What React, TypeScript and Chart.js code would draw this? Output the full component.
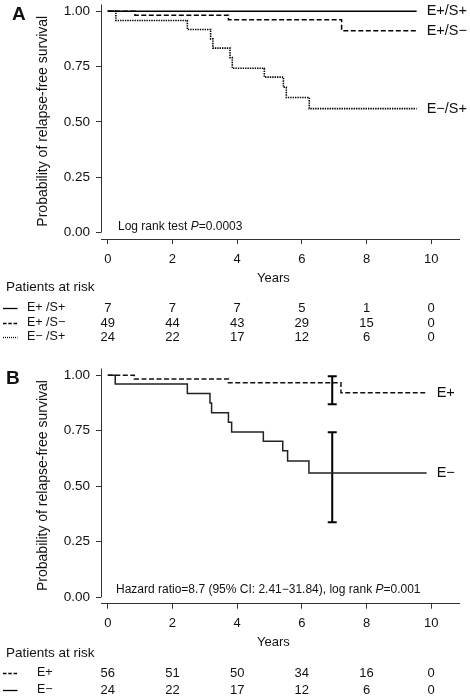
import React, { useEffect, useRef } from 'react';
import { Chart, registerables } from 'chart.js';
Chart.register(...registerables);

const FONT = '"Liberation Sans", Arial, Helvetica, sans-serif';
const AX = '#333';
const TXT = '#111';

// ---- shared axes ----
const yearTicks = [0, 2, 4, 6, 8, 10];
const survTicks = [0, 0.25, 0.5, 0.75, 1];

// ---- Panel A curves (years, survival) ----
const aEpSpTime = [0, 9.55];
const aEpSpSurv = [1, 1];
const aEpSmTime = [0, 0.84, 3.73, 7.23, 9.55];
const aEpSmSurv = [1, 0.982, 0.961, 0.912, 0.912];
const aEmSpTime = [0, 0.25, 2.46, 3.18, 3.25, 3.78, 3.85, 4.84, 5.43, 5.52, 6.23, 9.55];
const aEmSpSurv = [1, 0.958, 0.917, 0.875, 0.833, 0.79, 0.742, 0.702, 0.656, 0.61, 0.56, 0.56];

// ---- Panel B curves ----
const bEpTime = [0, 0.82, 3.73, 7.21, 9.86];
const bEpSurv = [1, 0.983, 0.966, 0.921, 0.921];
const bEmTime = [0, 0.23, 2.46, 3.16, 3.21, 3.73, 3.83, 4.81, 5.41, 5.56, 6.22, 9.86];
const bEmSurv = [1, 0.96, 0.917, 0.875, 0.831, 0.788, 0.744, 0.702, 0.66, 0.614, 0.56, 0.56];
const bCiTime = 6.94;
const bEpCi = [0.869, 0.995];
const bEmCi = [0.338, 0.743];

// ---- Patients at risk ----
const riskAEpSp = [7, 7, 7, 5, 1, 0];
const riskAEpSm = [49, 44, 43, 29, 15, 0];
const riskAEmSp = [24, 22, 17, 12, 6, 0];
const riskBEp = [56, 51, 50, 34, 16, 0];
const riskBEm = [24, 22, 17, 12, 6, 0];

const SOLID: number[] = [];
const DASH = [5, 2.5];
const DOT = [1.4, 1];

type Seg = { text: string; italic?: boolean };
type Curve = { time: number[]; surv: number[]; dash: number[]; color: string; width: number; name: string };
type Bar = { time: number; lo: number; hi: number };
type Row = { label: string; dash: number[]; counts: number[]; y: number };
interface PanelCfg {
  letter: string; letterX: number; letterY: number;
  padTop: number; padBottom: number; tickPad: number;
  curves: Curve[]; bars: Bar[];
  stat: Seg[]; statX: number; statY: number;
  yearsY: number; patientsY: number; rows: Row[]; rowLabelX: number;
}

const panelA: PanelCfg = {
  letter: 'A', letterX: 12, letterY: 15,
  padTop: 3.4, padBottom: 59, tickPad: 8,
  curves: [
    { time: aEpSpTime, surv: aEpSpSurv, dash: SOLID, color: '#000', width: 1.5, name: 'E+/S+' },
    { time: aEpSmTime, surv: aEpSmSurv, dash: DASH, color: '#000', width: 1.5, name: 'E+/S−' },
    { time: aEmSpTime, surv: aEmSpSurv, dash: DOT, color: '#000', width: 1.6, name: 'E−/S+' },
  ],
  bars: [],
  stat: [{ text: 'Log rank test ' }, { text: 'P', italic: true }, { text: '=0.0003' }],
  statX: 118, statY: 227,
  yearsY: 278, patientsY: 287, rowLabelX: 27,
  rows: [
    { label: 'E+ /S+', dash: SOLID, counts: riskAEpSp, y: 308 },
    { label: 'E+ /S−', dash: [3.5, 1.8], counts: riskAEpSm, y: 323 },
    { label: 'E− /S+', dash: [1, 1], counts: riskAEmSp, y: 337 },
  ],
};

const panelB: PanelCfg = {
  letter: 'B', letterX: 6, letterY: 31,
  padTop: 19.4, padBottom: 42.3, tickPad: 6.5,
  curves: [
    { time: bEpTime, surv: bEpSurv, dash: DASH, color: '#111', width: 1.5, name: 'E+' },
    { time: bEmTime, surv: bEmSurv, dash: SOLID, color: '#222', width: 1.5, name: 'E−' },
  ],
  bars: [
    { time: bCiTime, lo: bEpCi[0], hi: bEpCi[1] },
    { time: bCiTime, lo: bEmCi[0], hi: bEmCi[1] },
  ],
  stat: [{ text: 'Hazard ratio=8.7 (95% CI: 2.41−31.84), log rank ' }, { text: 'P', italic: true }, { text: '=0.001' }],
  statX: 116, statY: 242,
  yearsY: 294, patientsY: 305, rowLabelX: 37,
  rows: [
    { label: 'E+', dash: [3.5, 1.8], counts: riskBEp, y: 325 },
    { label: 'E−', dash: SOLID, counts: riskBEm, y: 342 },
  ],
};

function overlay(cfg: PanelCfg) {
  return {
    id: 'overlay' + cfg.letter,
    afterDraw(chart: any) {
      const { ctx, chartArea, scales } = chart;
      const xs = scales.x, ys = scales.y;
      ctx.save();
      // y axis line (0 .. top)
      ctx.strokeStyle = AX; ctx.lineWidth = 1; ctx.setLineDash([]);
      ctx.beginPath();
      ctx.moveTo(chartArea.left + 0.5, ys.getPixelForValue(1.03));
      ctx.lineTo(chartArea.left + 0.5, ys.getPixelForValue(0));
      ctx.stroke();

      ctx.fillStyle = TXT;
      ctx.textBaseline = 'middle';
      // panel letter
      ctx.font = `bold 19px ${FONT}`;
      ctx.textAlign = 'left';
      ctx.fillText(cfg.letter, cfg.letterX, cfg.letterY);

      // curve end labels
      ctx.font = `14.5px ${FONT}`;
      cfg.curves.forEach(c => {
        const n = c.time.length - 1;
        ctx.fillText(c.name, xs.getPixelForValue(c.time[n]) + 10, ys.getPixelForValue(c.surv[n]));
      });

      // stat text
      let x = cfg.statX;
      cfg.stat.forEach(s => {
        ctx.font = `${s.italic ? 'italic ' : ''}12px ${FONT}`;
        ctx.fillText(s.text, x, cfg.statY);
        x += ctx.measureText(s.text).width;
      });

      // x title
      ctx.font = `13px ${FONT}`;
      ctx.textAlign = 'center';
      ctx.fillText('Years', xs.getPixelForValue(5.12), cfg.yearsY);

      // risk table
      ctx.textAlign = 'left';
      ctx.font = `13.5px ${FONT}`;
      ctx.fillText('Patients at risk', 6, cfg.patientsY);
      cfg.rows.forEach(r => {
        ctx.strokeStyle = '#000'; ctx.lineWidth = 1.3;
        ctx.setLineDash(r.dash);
        ctx.beginPath(); ctx.moveTo(3, r.y + 0.5); ctx.lineTo(17.5, r.y + 0.5); ctx.stroke();
        ctx.setLineDash([]);
        ctx.textAlign = 'left';
        ctx.font = `12.5px ${FONT}`;
        ctx.fillText(r.label, cfg.rowLabelX, r.y);
        ctx.font = `13px ${FONT}`;
        ctx.textAlign = 'center';
        r.counts.forEach((v, i) => ctx.fillText(String(v), xs.getPixelForValue(yearTicks[i]), r.y));
      });
      ctx.restore();
    },
  };
}

function Panel({ cfg }: { cfg: PanelCfg }) {
  const ref = useRef<HTMLCanvasElement>(null);
  useEffect(() => {
    if (!ref.current) return;
    const datasets: any[] = cfg.curves.map(c => ({
      type: 'line',
      data: c.time.map((t, i) => ({ x: t, y: c.surv[i] })),
      stepped: 'before',
      borderColor: c.color, borderWidth: c.width, borderDash: c.dash,
      pointRadius: 0, fill: false, tension: 0,
    }));
    cfg.bars.forEach(b => datasets.push({
      type: 'line',
      data: [{ x: b.time, y: b.lo }, { x: b.time, y: b.hi }],
      borderColor: '#000', borderWidth: 2, stepped: false,
      pointStyle: 'line', pointRadius: 4.5, pointBorderWidth: 2,
      pointBorderColor: '#000', pointBackgroundColor: '#000', fill: false,
    }));
    const chart = new Chart(ref.current, {
      type: 'line',
      data: { datasets },
      options: {
        responsive: false, animation: false, devicePixelRatio: 1,
        layout: { padding: { left: 0, right: 11, top: cfg.padTop, bottom: cfg.padBottom } },
        plugins: { legend: { display: false }, tooltip: { enabled: false } },
        scales: {
          x: {
            type: 'linear', min: -0.21, max: 10.86,
            afterBuildTicks: (s: any) => { s.ticks = yearTicks.map(v => ({ value: v })); },
            afterFit: (s: any) => { s.height = 50; s.paddingLeft = 0; s.paddingRight = 0; },
            grid: { display: true, drawOnChartArea: false, drawTicks: true, tickLength: 5, color: AX, lineWidth: 1 },
            border: { display: true, color: AX, width: 1 },
            ticks: { padding: cfg.tickPad, color: TXT, font: { size: 13, family: FONT }, maxRotation: 0, autoSkip: false, callback: (v: any) => String(v) },
          },
          y: {
            type: 'linear', min: -0.029, max: 1.035,
            afterBuildTicks: (s: any) => { s.ticks = survTicks.map(v => ({ value: v })); },
            afterFit: (s: any) => { s.width = 101; s.paddingTop = 0; s.paddingBottom = 0; },
            grid: { display: true, drawOnChartArea: false, drawTicks: true, tickLength: 5, color: AX, lineWidth: 1 },
            border: { display: false },
            ticks: { padding: 6, color: TXT, font: { size: 13.5, family: FONT }, autoSkip: false, callback: (v: any) => Number(v).toFixed(2) },
            title: { display: true, text: 'Probability of relapse-free survival', color: TXT, font: { size: 14, family: FONT }, padding: { top: 34.6, bottom: 0 } },
          },
        },
      } as any,
      plugins: [overlay(cfg)],
    });
    return () => chart.destroy();
  }, [cfg]);
  return <canvas ref={ref} width={470} height={348} style={{ display: 'block', width: 470, height: 348 }} />;
}

export default function App() {
  return (
    <div style={{ position: 'absolute', left: 0, top: 0, width: 470, height: 696, background: '#fff' }}>
      <Panel cfg={panelA} />
      <Panel cfg={panelB} />
    </div>
  );
}
